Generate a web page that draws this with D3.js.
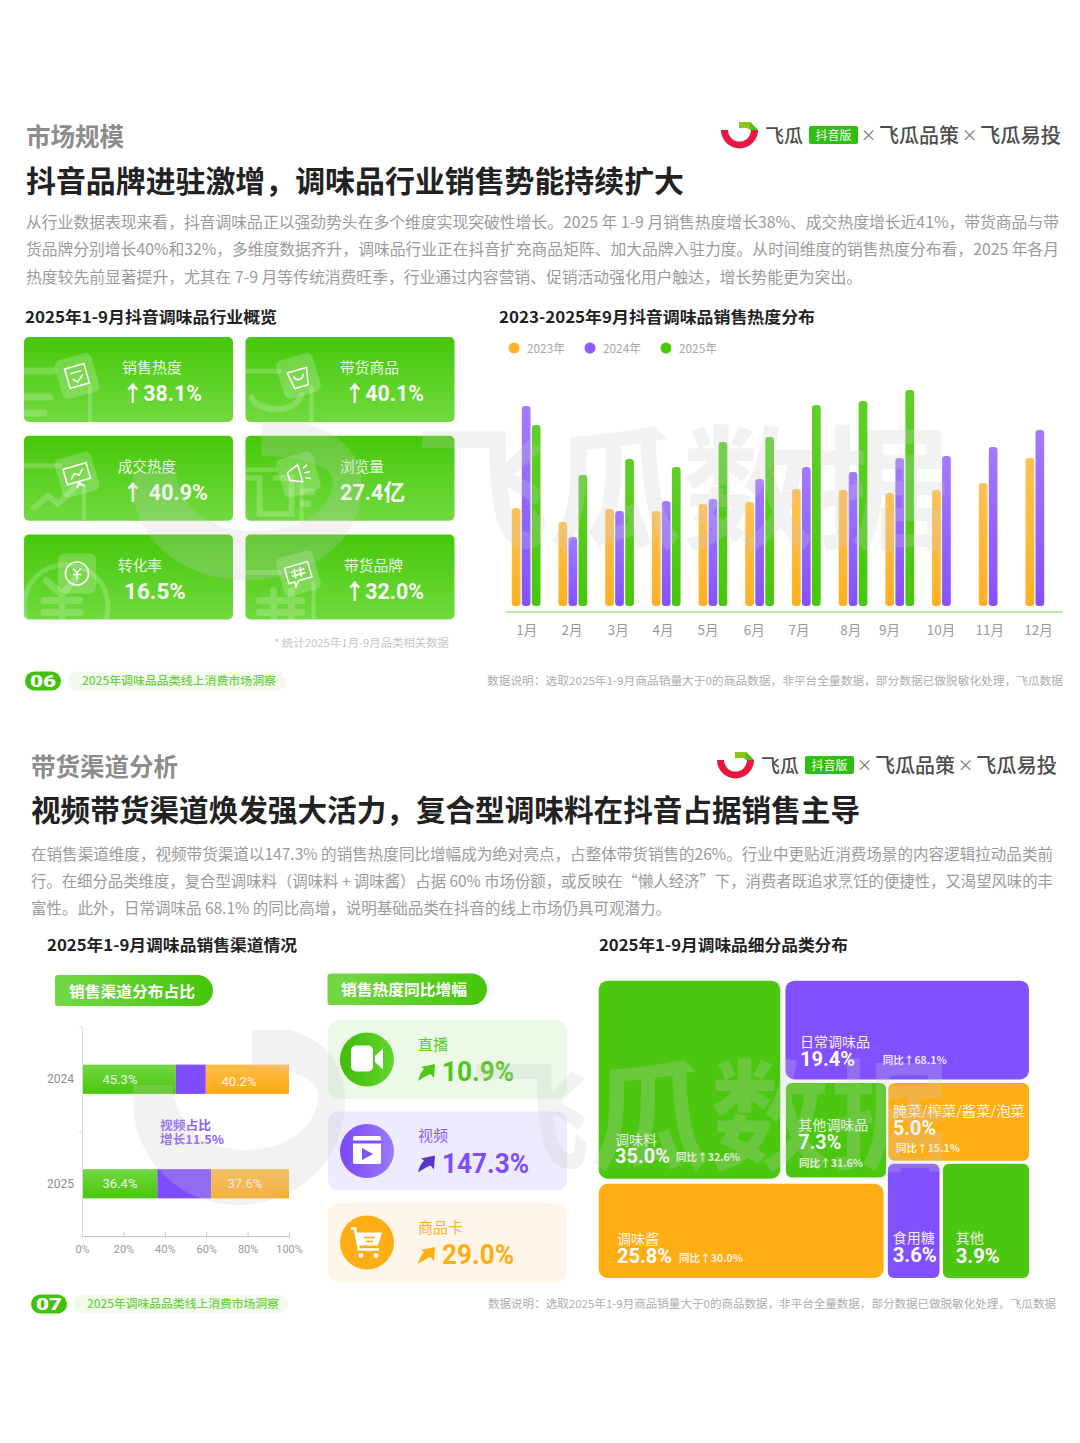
<!DOCTYPE html>
<html lang="zh"><head><meta charset="utf-8">
<style>html,body{margin:0;padding:0;background:#fff}svg{display:block}text{font-family:"Noto Sans CJK SC","Noto Sans",sans-serif}</style>
<script src="https://cdn.jsdelivr.net/npm/d3@7/dist/d3.min.js"></script>
</head><body><svg id="c" width="1080" height="1443"></svg>
<script>
// ---------- DATA ----------
const months=["1月","2月","3月","4月","5月","6月","7月","8月","9月","10月","11月","12月"];
const years=["2023年","2024年","2025年"];
const heat2023=[98,84,97,95,102,104,117,116,113,116,123,148];
const heat2024=[200,69,95,105,107,127,139,134,148,150,159,176];
const heat2025=[181,131,147,139,164,169,201,205,216,null,null,null];
const overviewTitles=["销售热度","带货商品","成交热度","浏览量","转化率","带货品牌"];
const overviewValues=["↑38.1%","↑40.1%","↑ 40.9%","27.4亿","16.5%","↑32.0%"];
const channelYears=["2024","2025"];
const channelNames=["直播","视频","商品卡"];
const channelShare2024=[45.3,14.5,40.2];
const channelShare2025=[36.4,26.0,37.6];
const channelGrowth=["10.9%","147.3%","29.0%"];
const shareTicks=[0,20,40,60,80,100];
const categoryNames=["调味料","日常调味品","其他调味品","腌菜/榨菜/酱菜/泡菜","调味酱","食用糖","其他"];
const categoryShare=[35.0,19.4,7.3,5.0,25.8,3.6,3.9];
const categoryYoy=[32.6,68.1,31.6,15.1,30.0,null,null];

// ---------- LAYOUT / STYLE ----------
const G="#4ac70e",P="#8150ff",O="#ffad14";
const svg=d3.select("#c");
const defs=svg.append("defs");
function grad(id,c1,c2,horizontal){const g=defs.append("linearGradient").attr("id",id);
 if(!horizontal)g.attr("x1",0).attr("y1",0).attr("x2",0).attr("y2",1);
 g.append("stop").attr("offset",0).attr("stop-color",c1);g.append("stop").attr("offset",1).attr("stop-color",c2);}
grad("cardG","#46c80a","#70da3e");grad("pillG","#74d846","#45c60a",true);
grad("barO","#ffc255","#ffb01f");grad("barP","#a37bff","#8751ff");grad("barG","#5fd028","#47c70b");
grad("stG","#72d843","#47c70b");grad("stO","#ffbd48","#ffa90f");
grad("cirG","#3fbd08","#62d42e",true);grad("cirP","#7a48f5","#9c78fb",true);
function T(s,x,y,o={}){const size=o.size||14;
 const e=(o.g||svg).append("text").attr("x",x).attr("y",o.num?y:y-size*.065).attr("dominant-baseline","central")
 .attr("font-size",size).attr("font-weight",o.weight||400).attr("fill",o.fill||"#333").attr("text-anchor",o.anchor||"start").text(s);
 if(o.num)e.style("font-family",'Roboto,"Noto Sans CJK SC",sans-serif');
 if(o.width){e.attr("textLength",o.width).attr("lengthAdjust","spacingAndGlyphs");}
 if(o.opacity)e.attr("opacity",o.opacity);return e;}

function logo(dx,dy){const g=svg.append("g").attr("transform",`translate(${dx},${dy})`);
 const arc=d3.arc().innerRadius(11.5).outerRadius(18.5);
 g.append("path").attr("d",arc({startAngle:Math.PI*0.5,endAngle:Math.PI*1.5})).attr("transform","translate(739.5,130)").attr("fill","#e8173f");
 g.append("path").attr("d","M739 122h11l8 8h-8l-3-2h-8z").attr("fill","#8fc31f");
 g.append("path").attr("d","M750 122l8 8h-8z").attr("fill","#45c60a");
 const c="#4d4d4d";
 T("飞瓜",765,136,{g,size:19,width:38,fill:c,weight:500});
 g.append("rect").attr("x",809).attr("y",126).attr("width",49).attr("height",18).attr("rx",2).attr("fill","#2fbe12");
 T("抖音版",833.5,135.5,{g,size:12,fill:"#fff",anchor:"middle",width:36});
 T("×",868.5,135,{g,size:16,fill:"#777",anchor:"middle"});
 T("飞瓜品策",879,135.5,{g,size:20,width:80,fill:c,weight:500});
 T("×",969.5,135,{g,size:16,fill:"#777",anchor:"middle"});
 T("飞瓜易投",980,135.5,{g,size:20,width:81,fill:c,weight:500});}
logo(0,0);logo(-4,630);

// ---------- PAGE 1 header ----------
T("市场规模",26,137,{size:24.5,weight:700,fill:"#8c8c8c",width:98});
T("抖音品牌进驻激增，调味品行业销售势能持续扩大",26,181,{size:30,weight:700,fill:"#222",width:658});
const b1=[["从行业数据表现来看，抖音调味品正以强劲势头在多个维度实现突破性增长。2025 年 1-9 月销售热度增长38%、成交热度增长近41%，带货商品与带",1033],
["货品牌分别增长40%和32%，多维度数据齐升，调味品行业正在抖音扩充商品矩阵、加大品牌入驻力度。从时间维度的销售热度分布看，2025 年各月",1033],
["热度较先前显著提升，尤其在 7-9 月等传统消费旺季，行业通过内容营销、促销活动强化用户触达，增长势能更为突出。",836]];
b1.forEach((l,i)=>T(l[0],26,222+i*27.5,{size:15.5,fill:"#9b9b9b",width:l[1]}));
T("2025年1-9月抖音调味品行业概览",25,317,{size:16,weight:700,fill:"#222",width:252});
T("2023-2025年9月抖音调味品销售热度分布",499,317,{size:16,weight:700,fill:"#222",width:316});

// ---------- overview cards ----------
const cardXs=d3.scalePoint().domain([0,1]).range([24,245.5]);
const cardYs=d3.scalePoint().domain([0,1,2]).range([337,534.5]);
const cardText=[[122,60,122,80],[340,59,344,80],[118,58,122,86],[340,44,340,65],[118,44,124,62],[344,59,344,80]];
overviewTitles.forEach((t,i)=>{
 const col=i%2,row=Math.floor(i/2),x=cardXs(col),y=cardYs(row);
 const g=svg.append("g");
 g.append("rect").attr("x",x).attr("y",y).attr("width",209).attr("height",85).attr("rx",5).attr("fill","url(#cardG)");
 const clipId="cc"+i;defs.append("clipPath").attr("id",clipId).append("rect").attr("x",x).attr("y",y).attr("width",209).attr("height",85).attr("rx",5);
 const bgC=g.append("g").attr("clip-path",`url(#${clipId})`).append("g").attr("transform",`translate(${x},${y})`);
 const st=(p,w)=>bgC.append("path").attr("d",p).attr("fill","none").attr("stroke","#fff").attr("stroke-opacity",.2).attr("stroke-width",w||6).attr("stroke-linecap","round");
 const icon=i;
 if(icon==0){st("M0 34H30",7);st("M0 60H26M0 76H20",7);st("M66 50V85",4);}
 if(icon==1){st("M0 34H34",5);st("M6 60C10 75 50 78 56 58",6);st("M66 50V85",4);}
 if(icon==2){st("M0 30H36",5);st("M10 72L24 60L34 68L52 50",6);st("M60 50V85",4);}
 if(icon==3){st("M0 34H30",5);st("M0 42H14V78H46V42H30",6);st("M56 50V85",4);st("M58 56H66M58 68H62",7);}
 if(icon==4){bgC.append("circle").attr("cx",42).attr("cy",72).attr("r",42).attr("fill","none").attr("stroke","#fff").attr("stroke-opacity",.2).attr("stroke-width",5);st("M22 46L38 60L52 44M38 60V85M20 66H56M20 78H56",7);}
 if(icon==5){st("M0 38H34",5);st("M28 56V85M46 56V85M14 66H56M14 78H56",7);st("M68 48V85",4);}
 const ig=bgC.append("g").attr("transform","translate(53,39) rotate(-16)");
 ig.append("rect").attr("x",-19).attr("y",-20).attr("width",38).attr("height",40).attr("rx",6).attr("fill","#fff").attr("fill-opacity",.2);
 const gl=(p)=>ig.append("path").attr("d",p).attr("fill","none").attr("stroke","#fff").attr("stroke-width",1.6);
 if(icon==0){gl("M-10-10H10V10H-10Z");gl("M-6-4H6M-5 2L-1 6L6 0");}
 if(icon==1){gl("M-10-6H10L7 11H-7Z");gl("M-5-1C-4 5 4 5 5-1");}
 if(icon==2){gl("M-12-9H12V7H-12Z");gl("M-7 3L-2-2L2 1L7-4M0 7V12M-4 13L0 8L4 13");}
 if(icon==3){gl("M-10-5L2-10V8L-10 3Z");gl("M6-5L11-7M6 0H12M6 5L11 7");}
 if(icon==4){ig.attr("transform","translate(53,39)");gl("M11.5 0A11.5 11.5 0 1 1 -11.5 0A11.5 11.5 0 1 1 11.5 0Z");gl("M-4-5L0-1L4-5M0-1V6M-4 1H4");}
 if(icon==5){gl("M-12-9H12V7H-2L-6 12V7H-12Z");gl("M-3-6L-4 4M3-6L2 4M-7-3H7M-7 1H7");}
 const c=cardText[i];
 T(t,c[0],y+30.5,{size:14.5,fill:"#fff",opacity:.88,width:c[1]});
 T(overviewValues[i],c[2],y+56.5,{size:22,weight:700,fill:"#fff",width:c[3],opacity:.96,num:true});
});
T("* 统计2025年1月-9月品类相关数据",274,643,{size:11,fill:"#c6c6c6",width:175});

// ---------- grouped bars ----------
const barSeries=[heat2023,heat2024,heat2025];
const barFills=["url(#barO)","url(#barP)","url(#barG)"];
const legendFills=[ "#ffb22e","#8a5bff","#4ac70e"];
const groupX=d3.scaleBand().domain(months).range([511.8,1072.2]);
const innerX=d3.scaleBand().domain(years).range([0,30]);
const heatY=d3.scaleLinear().domain([0,216]).range([606,390]);
const legendX=d3.scalePoint().domain(years).range([514,666]);
years.forEach((yr,k)=>{
 svg.append("circle").attr("cx",legendX(yr)).attr("cy",348).attr("r",5.5).attr("fill",legendFills[k]);
 T(yr,legendX(yr)+13,348,{size:12,fill:"#aaa",width:38});
 svg.append("g").selectAll("rect").data(months.map((m,i)=>({m,v:barSeries[k][i]})).filter(d=>d.v!=null)).join("rect")
  .attr("x",d=>groupX(d.m)+innerX(yr)).attr("y",d=>heatY(d.v)).attr("width",8.7).attr("height",d=>heatY(0)-heatY(d.v)).attr("rx",3.2).attr("fill",barFills[k]);
});
svg.append("line").attr("x1",506).attr("x2",1063).attr("y1",612).attr("y2",612).attr("stroke","#a9e68c").attr("stroke-width",1.5);
const tickNudge=[0,-1.5,-2,-4,-5.6,-6,-8,-3,-11,-6,-4,-2];
months.forEach((m,i)=>T(m,groupX(m)+15+tickNudge[i],629.5,{size:13.5,fill:"#9a9a9a",anchor:"middle"}));

function footer(y,x0,no,x1,x2,tx,tw,rx,rw){
 svg.append("rect").attr("x",x0).attr("y",y-9.5).attr("width",36).attr("height",19).attr("rx",9.5).attr("fill","#3fc208");
 T(no,x0+18,y,{size:16,weight:900,fill:"#fff",anchor:"middle",width:26,num:true});
 svg.append("rect").attr("x",x1).attr("y",y-9.5).attr("width",x2-x1).attr("height",19).attr("rx",9.5).attr("fill","#f3fbee");
 T("2025年调味品品类线上消费市场洞察",tx,y,{size:11.5,fill:"#6dd243",width:tw,weight:500});
 T("数据说明：选取2025年1-9月商品销量大于0的商品数据，非平台全量数据，部分数据已做脱敏化处理，飞瓜数据",rx,y,{size:11,fill:"#adadad",width:rw});
}
footer(681,25,"06",67,286,82,194,487,576);

// ---------- PAGE 2 header ----------
T("带货渠道分析",31,767,{size:24.5,weight:700,fill:"#8c8c8c",width:147});
T("视频带货渠道焕发强大活力，复合型调味料在抖音占据销售主导",31,810,{size:30,weight:700,fill:"#222",width:829});
const b2=[["在销售渠道维度，视频带货渠道以147.3% 的销售热度同比增幅成为绝对亮点，占整体带货销售的26%。行业中更贴近消费场景的内容逻辑拉动品类前",1022],
["行。在细分品类维度，复合型调味料（调味料 + 调味酱）占据 60% 市场份额，或反映在“懒人经济”下，消费者既追求烹饪的便捷性，又渴望风味的丰",1022],
["富性。此外，日常调味品 68.1% 的同比高增，说明基础品类在抖音的线上市场仍具可观潜力。",640]];
b2.forEach((l,i)=>T(l[0],31,854+i*27,{size:15.5,fill:"#9b9b9b",width:l[1]}));
T("2025年1-9月调味品销售渠道情况",47,945,{size:16,weight:700,fill:"#222",width:250});
T("2025年1-9月调味品细分品类分布",599,945,{size:16,weight:700,fill:"#222",width:249});

function pill(x,y,w,h,t,tx,tw){const r=h/2;
 svg.append("path").attr("d",`M${x+3} ${y}H${x+w-r}A${r} ${r} 0 0 1 ${x+w-r} ${y+h}H${x+3}Q${x} ${y+h} ${x} ${y+h-3}V${y+3}Q${x} ${y} ${x+3} ${y}Z`).attr("fill","url(#pillG)");
 T(t,tx,y+h/2+.5,{size:15,weight:700,fill:"#fff",width:tw});}
pill(55,975,158,31,"销售渠道分布占比",69,126);
pill(327.5,973.5,159.5,31.5,"销售热度同比增幅",341,126);

// ---------- stacked bars ----------
const shareX=d3.scaleLinear().domain([0,100]).range([82,289]);
const shareY=d3.scaleBand().domain(channelYears).range([1027,1236]).paddingInner(.72).paddingOuter(.36);
const stackRows=channelYears.map((y,i)=>{const v=i?channelShare2025:channelShare2024;return{year:y,live:v[0],video:v[1],card:v[2]};});
const stackKeys=["live","video","card"];
const stackFills={live:"url(#stG)",video:"#7f4dff",card:"url(#stO)"};
d3.stack().keys(stackKeys)(stackRows).forEach(s=>{
 svg.append("g").selectAll("rect").data(s).join("rect").attr("x",d=>shareX(d[0])).attr("y",d=>shareY(d.data.year)).attr("width",d=>shareX(d[1])-shareX(d[0])).attr("height",shareY.bandwidth()).attr("fill",stackFills[s.key]);
});
T("45.3%",120,1079,{size:13,fill:"#fff",anchor:"middle",opacity:.88,num:true});
T("40.2%",239,1081,{size:13,fill:"#fff",anchor:"middle",opacity:.88,num:true});
T("36.4%",120,1183,{size:13,fill:"#fff",anchor:"middle",opacity:.88,num:true});
T("37.6%",245,1183,{size:13,fill:"#fff",anchor:"middle",opacity:.88,num:true});
channelYears.forEach(y=>T(y,74,shareY(y)+shareY.bandwidth()/2,{size:12,fill:"#8e8e8e",anchor:"end",num:true}));
T("视频占比",160,1125,{size:12,weight:700,fill:"#8a5cf6",width:51});
T("增长11.5%",160,1139,{size:12,weight:700,fill:"#8a5cf6",width:64});
const axX=svg.append("g").attr("transform","translate(0,1236)").call(d3.axisBottom(shareX).tickValues(shareTicks).tickFormat(d=>d+"%").tickSize(0));
axX.select(".domain").attr("stroke","#c9c9c9");
axX.selectAll("text").attr("font-size",11).attr("fill","#9a9a9a").attr("y",13).attr("dy",0).style("font-family",'Roboto,sans-serif').attr("dominant-baseline","central");
axX.selectAll(".tick line").attr("y1",-4).attr("y2",2).attr("stroke","#c9c9c9");
svg.append("line").attr("x1",82.5).attr("x2",82.5).attr("y1",1027).attr("y2",1236).attr("stroke","#dcdcdc");
[1027,1132].forEach(y=>svg.append("line").attr("x1",79).attr("x2",82).attr("y1",y).attr("y2",y).attr("stroke","#dcdcdc"));

// ---------- growth cards ----------
const cardBg=["#ecf9e6","#efebfe","#fff5e8"],cardFg=["#4fc71a","#7f4dff","#ffad14"];
const cirFill=["url(#cirG)","url(#cirP)",O];
const growTops=d3.scalePoint().domain(channelNames).range([1020,1203]),growW=[72,87,72];
channelNames.forEach((n,i)=>{const t=growTops(n);
 svg.append("rect").attr("x",328).attr("y",t).attr("width",239).attr("height",79).attr("rx",11).attr("fill",cardBg[i]);
 const cy=t+39.5,cx=367;
 svg.append("circle").attr("cx",cx).attr("cy",cy).attr("r",27).attr("fill",cirFill[i]);
 const ig=svg.append("g").attr("transform",`translate(${cx},${cy})`);
 if(i==0){ig.append("rect").attr("x",-16).attr("y",-14).attr("width",22).attr("height",26).attr("rx",5).attr("fill","#fff");
  ig.append("path").attr("d","M16-11V10L8 2.5V-3.5Z").attr("fill","#fff");}
 if(i==1){ig.append("rect").attr("x",-14).attr("y",-15).attr("width",28).attr("height",28).attr("rx",2).attr("fill","#fff");
  ig.append("rect").attr("x",-14).attr("y",-10.5).attr("width",28).attr("height",3).attr("fill",P);
  ig.append("path").attr("d","M-5-3L6 3L-5 9Z").attr("fill",P);}
 if(i==2){ig.append("path").attr("d","M-16-14H-12L-8 7H12").attr("fill","none").attr("stroke","#fff").attr("stroke-width",2.6);
  ig.append("path").attr("d","M-11-10H15L11 3H-9Z").attr("fill","#fff");
  ig.append("path").attr("d","M-3-5H8M-1-1H6").attr("stroke",O).attr("stroke-width",1.6);
  ig.append("circle").attr("cx",-6).attr("cy",13).attr("r",2.4).attr("fill","#fff");ig.append("circle").attr("cx",9).attr("cy",13).attr("r",2.4).attr("fill","#fff");}
 T(n,418,t+24,{size:15,fill:cardFg[i],opacity:.9});
 svg.append("path").attr("transform",`translate(418,${t+44})`).attr("d","M0 17C1 12 3 8 6 5L3 3L17 0L16 14L12.5 10C8 12 4 14 0 17Z").attr("fill",i==1?"#5a36c8":cardFg[i]);
 T(channelGrowth[i],442,t+52,{size:27,weight:700,fill:cardFg[i],width:growW[i],num:true});
});

// ---------- category treemap ----------
const tmX=d3.scaleLinear().domain([0,100]).range([598.7,1029]);
const tmY=d3.scaleLinear().domain([0,100]).range([980.7,1278]);
const tmX0=[0,43.4,43.5,67.3,0,67.2,80],tmX1=[42.2,100,66.8,100,66.2,79.2,100];
const tmY0=[0,0,34.4,34.4,68.3,61.6,61.6],tmY1=[66.6,33.2,66.2,60.6,100,100,100];
const tmFill=[G,P,G,O,O,P,G];
const tmLab=[[615,1140,42],[800,1041.7,70],[798.3,1125,70],[893,1110.7,132],[617,1239,42],[892.7,1237.7,42],[955.7,1238,28]];
const tmVal=[[615,1156,55],[800,1058.5,55],[798.3,1142,43],[893,1127.5,43],[617,1256,55],[892.7,1254.5,44],[955.7,1255.5,44]];
const tmYoy=[[676,1157],[882.7,1060],[799,1163],[896,1148],[679,1257.7]];
svg.append("g").selectAll("rect").data(categoryNames).join("rect")
 .attr("x",(d,i)=>tmX(tmX0[i])).attr("y",(d,i)=>tmY(tmY0[i])).attr("width",(d,i)=>tmX(tmX1[i])-tmX(tmX0[i])).attr("height",(d,i)=>tmY(tmY1[i])-tmY(tmY0[i])).attr("rx",(d,i)=>i<2||i==4?9:6).attr("fill",(d,i)=>tmFill[i]);
categoryNames.forEach((n,i)=>{
 T(n,tmLab[i][0],tmLab[i][1],{size:13.5,fill:"#fff",width:tmLab[i][2],opacity:.9});
 T(categoryShare[i].toFixed(1)+"%",tmVal[i][0],tmVal[i][1],{size:20,weight:700,fill:"#fff",width:tmVal[i][2],num:true});
 if(categoryYoy[i]!=null)T("同比↑"+categoryYoy[i].toFixed(1)+"%",tmYoy[i][0],tmYoy[i][1],{size:10.5,weight:700,fill:"#fff",width:64,opacity:.85});
});
footer(1304,31,"07",73,288,87,192,488,568);

// ---------- watermark ----------
const wm=svg.append("g").attr("opacity",.25).style("pointer-events","none");
const wmShape="M0 55H40C42 95 72 120 112 120C157 120 185 95 185 65C185 48 157 37 119 37V0H157C192 10 212 35 212 69C212 130 165 175 106 175C47 175 0 130 0 69Z";
function mark(tx0,ty0,sx,sy,tx,ty,fs,tw){
 wm.append("path").attr("transform",`translate(${tx0},${ty0}) scale(${sx},${sy})`).attr("d",wmShape).attr("fill","#c8c8c8");
 T("飞瓜数据",tx,ty,{g:wm,size:fs,weight:700,fill:"#c8c8c8",width:tw});
}
mark(133,423,1.08,.9,415,490,134,535);
mark(133,1030,1,1,470,1117,120,480);
</script></body></html>
